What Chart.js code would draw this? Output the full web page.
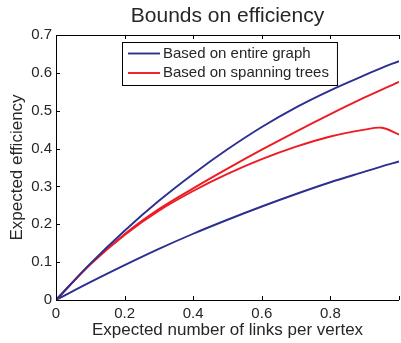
<!DOCTYPE html>
<html>
<head>
<meta charset="utf-8">
<script src="https://cdn.jsdelivr.net/npm/chart.js@4"></script>
<style>
html, body { margin: 0; padding: 0; overflow: hidden; background: #fff; }
canvas { display: block; }
</style>
</head>
<body>
<canvas id="effChart" width="404" height="343"></canvas>
<script>
//expected number of links per vertex
var links = [0, 0.1, 0.2, 0.3, 0.4, 0.5, 0.6, 0.7, 0.8, 0.9, 0.95, 1];
//bounds based on the entire graph
var graphUpper = [0, 0.096, 0.183, 0.262, 0.333, 0.398, 0.457, 0.509, 0.554, 0.594, 0.613, 0.631];
var graphLower = [0, 0.047, 0.092, 0.135, 0.175, 0.212, 0.247, 0.28, 0.311, 0.339, 0.353, 0.366];
//bounds based on spanning trees
var treeUpper = [0, 0.094, 0.174, 0.24, 0.295, 0.347, 0.397, 0.445, 0.491, 0.535, 0.556, 0.576];
var treeLower = [0, 0.094, 0.172, 0.236, 0.288, 0.333, 0.372, 0.405, 0.432, 0.45, 0.455, 0.437];

var chartTitle = "Bounds on efficiency";
var legendLabels = ["Based on entire graph", "Based on spanning trees"];
var xTicks = [0, 0.2, 0.4, 0.6, 0.8, 1];
var yTicks = [0, 0.1, 0.2, 0.3, 0.4, 0.5, 0.6, 0.7];

var blue = "#2b2f90";
var red = "#ed1c24";
var font = "'Liberation Sans', Arial, Helvetica, sans-serif";

function points(vals) {
  return links.map(function (x, i) { return { x: x, y: vals[i] }; });
}

function line(label, vals, color) {
  return {
    label: label,
    data: points(vals),
    borderColor: color,
    borderWidth: 1.9,
    pointRadius: 0,
    fill: false,
    tension: 0.35
  };
}

//matlab style box, inward ticks, title over the axes and legend inside
var matlabFrame = {
  id: "matlabFrame",
  afterDraw: function (chart) {
    var ctx = chart.ctx, a = chart.chartArea;
    var xs = chart.scales.x, ys = chart.scales.y;
    ctx.save();
    ctx.strokeStyle = "#000";
    ctx.lineWidth = 1;
    ctx.beginPath();
    ctx.moveTo(a.left + 0.5, a.top + 0.5);
    ctx.lineTo(a.right + 0.5, a.top + 0.5);
    ctx.moveTo(a.left + 0.5, a.top);
    ctx.lineTo(a.left + 0.5, a.bottom + 0.5);
    ctx.lineTo(a.right, a.bottom + 0.5);
    xs.ticks.forEach(function (t) {
      var px = Math.round(xs.getPixelForValue(t.value)) + 0.5;
      ctx.moveTo(px, a.bottom); ctx.lineTo(px, a.bottom - 4);
      ctx.moveTo(px, a.top); ctx.lineTo(px, a.top + 4);
    });
    ys.ticks.forEach(function (t) {
      var py = Math.round(ys.getPixelForValue(t.value)) + 0.5;
      ctx.moveTo(a.left, py); ctx.lineTo(a.left + 4, py);
    });
    ctx.stroke();

    //title, centred over the axes
    ctx.fillStyle = "#262626";
    ctx.font = "21px " + font;
    ctx.textAlign = "center";
    ctx.textBaseline = "middle";
    ctx.fillText(chartTitle, (a.left + a.right) / 2, 16);

    //legend box
    ctx.textAlign = "left";
    ctx.font = "15px " + font;
    var bx = a.left + 66, by = a.top + 7;
    var w = 0;
    legendLabels.forEach(function (l) { w = Math.max(w, ctx.measureText(l).width); });
    var bw = 41 + w + 8, bh = 43;
    ctx.fillStyle = "#fff";
    ctx.fillRect(bx, by, bw, bh);
    ctx.strokeStyle = "#000";
    ctx.strokeRect(bx + 0.5, by + 0.5, bw, bh);
    var colors = [blue, red];
    legendLabels.forEach(function (l, i) {
      var cy = by + 11.5 + i * 19.5;
      ctx.strokeStyle = colors[i];
      ctx.lineWidth = 1.9;
      ctx.beginPath();
      ctx.moveTo(bx + 6, cy);
      ctx.lineTo(bx + 38, cy);
      ctx.stroke();
      ctx.fillStyle = "#262626";
      ctx.fillText(l, bx + 41, cy);
    });
    ctx.restore();
  }
};

new Chart("effChart", {
  type: "line",
  data: {
    datasets: [
      line(legendLabels[0], graphUpper, blue),
      line(legendLabels[1], treeUpper, red),
      line(legendLabels[1], treeLower, red),
      line(legendLabels[0], graphLower, blue)
    ]
  },
  options: {
    responsive: false,
    animation: false,
    layout: { padding: { top: 35, left: 0, right: 0, bottom: 0 } },
    plugins: {
      legend: { display: false },
      tooltip: { enabled: false },
      title: { display: false }
    },
    scales: {
      x: {
        type: "linear",
        min: 0,
        max: 1,
        afterBuildTicks: function (s) { s.ticks = xTicks.map(function (v) { return { value: v }; }); },
        afterFit: function (s) { s.height = 43; },
        grid: { display: false, drawTicks: false },
        border: { display: false },
        ticks: {
          color: "#262626",
          padding: 5,
          maxRotation: 0,
          font: { family: font, size: 15 },
          callback: function (v) { return v === 1 ? "" : String(v); }
        },
        title: {
          display: true,
          text: "Expected number of links per vertex",
          color: "#262626",
          font: { family: font, size: 17 },
          padding: { top: 0, bottom: 2 }
        }
      },
      y: {
        min: 0,
        max: 0.7,
        afterBuildTicks: function (s) { s.ticks = yTicks.map(function (v) { return { value: v }; }); },
        afterFit: function (s) { s.width = 56; },
        grid: { display: false, drawTicks: false },
        border: { display: false },
        ticks: {
          color: "#262626",
          padding: 4,
          font: { family: font, size: 15 },
          callback: function (v) { return String(v); }
        },
        title: {
          display: true,
          text: "Expected efficiency",
          color: "#262626",
          font: { family: font, size: 17 },
          padding: { top: 7, bottom: 0 }
        }
      }
    }
  },
  plugins: [matlabFrame]
});
</script>
</body>
</html>
